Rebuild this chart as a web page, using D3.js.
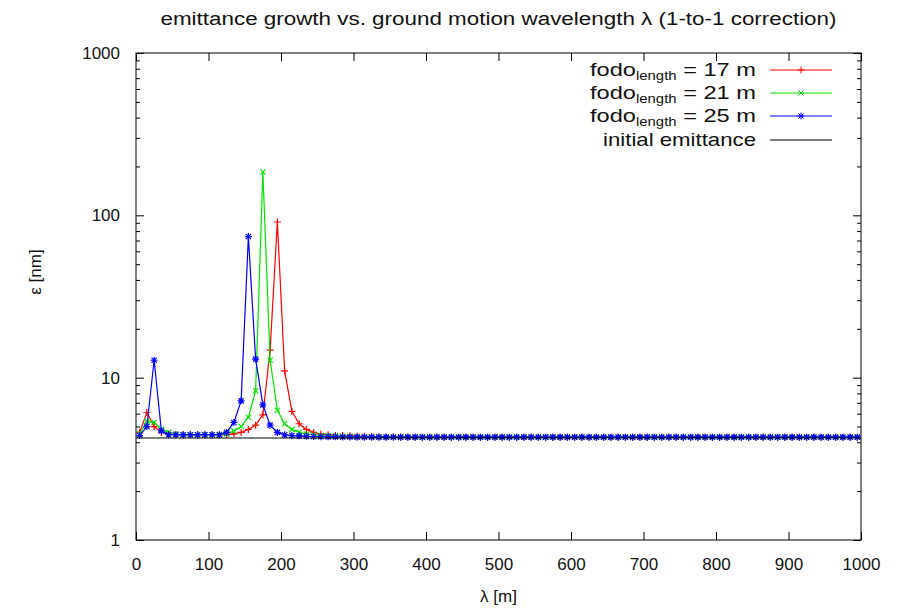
<!DOCTYPE html>
<head>
    <script src="https://d3js.org/d3.v7.min.js"></script>
    <style>
        body {margin: 0; background: #fff;}
        text {font-family: "Liberation Sans", Arial, sans-serif; fill: #111;}
        .tick line {stroke: #000;}
    </style>
</head>
<body>
</body>
<script>
  // lambda grid [m]
  const lambda = [
      5,  15,  25,  35,  45,  55,  65,  75,  85,  95,
    105, 115, 125, 135, 145, 155, 165, 175, 185, 195,
    205, 215, 225, 235, 245, 255, 265, 275, 285, 295,
    305, 315, 325, 335, 345, 355, 365, 375, 385, 395,
    405, 415, 425, 435, 445, 455, 465, 475, 485, 495,
    505, 515, 525, 535, 545, 555, 565, 575, 585, 595,
    605, 615, 625, 635, 645, 655, 665, 675, 685, 695,
    705, 715, 725, 735, 745, 755, 765, 775, 785, 795,
    805, 815, 825, 835, 845, 855, 865, 875, 885, 895,
    905, 915, 925, 935, 945, 955, 965, 975, 985, 995
  ];

  // emittance [nm], fodo length 17 m
  const fodo17 = [
    4.6, 6.1, 5.0, 4.6, 4.5, 4.45, 4.45, 4.45, 4.45, 4.45,
    4.45, 4.45, 4.45, 4.5, 4.6, 4.8, 5.1, 5.9, 14.8, 91,
    11, 6.2, 5.2, 4.8, 4.6, 4.5, 4.45, 4.4, 4.4, 4.38,
    4.36, 4.35, 4.34, 4.33, 4.32, 4.32, 4.31, 4.31, 4.3, 4.3,
    4.3, 4.3, 4.3, 4.3, 4.3, 4.3, 4.3, 4.3, 4.3, 4.3,
    4.3, 4.3, 4.3, 4.3, 4.3, 4.3, 4.3, 4.3, 4.3, 4.3,
    4.3, 4.3, 4.3, 4.3, 4.3, 4.3, 4.3, 4.3, 4.3, 4.3,
    4.3, 4.3, 4.3, 4.3, 4.3, 4.3, 4.3, 4.3, 4.3, 4.3,
    4.3, 4.3, 4.3, 4.3, 4.3, 4.3, 4.3, 4.3, 4.3, 4.3,
    4.3, 4.3, 4.3, 4.3, 4.3, 4.3, 4.3, 4.3, 4.3, 4.3
  ];

  // fodo length 21 m
  const fodo21 = [
    4.5, 5.4, 5.3, 4.8, 4.6, 4.5, 4.45, 4.45, 4.45, 4.45,
    4.45, 4.45, 4.5, 4.7, 5.0, 5.7, 8.3, 185, 12.8, 6.3,
    5.2, 4.8, 4.6, 4.5, 4.45, 4.4, 4.4, 4.38, 4.36, 4.35,
    4.34, 4.33, 4.32, 4.32, 4.31, 4.31, 4.3, 4.3, 4.3, 4.3,
    4.3, 4.3, 4.3, 4.3, 4.3, 4.3, 4.3, 4.3, 4.3, 4.3,
    4.3, 4.3, 4.3, 4.3, 4.3, 4.3, 4.3, 4.3, 4.3, 4.3,
    4.3, 4.3, 4.3, 4.3, 4.3, 4.3, 4.3, 4.3, 4.3, 4.3,
    4.3, 4.3, 4.3, 4.3, 4.3, 4.3, 4.3, 4.3, 4.3, 4.3,
    4.3, 4.3, 4.3, 4.3, 4.3, 4.3, 4.3, 4.3, 4.3, 4.3,
    4.3, 4.3, 4.3, 4.3, 4.3, 4.3, 4.3, 4.3, 4.3, 4.3
  ];

  // fodo length 25 m
  const fodo25 = [
    4.4, 5.0, 12.8, 4.7, 4.45, 4.45, 4.45, 4.45, 4.45, 4.45,
    4.45, 4.45, 4.6, 5.3, 7.2, 74, 13, 6.8, 5.1, 4.6,
    4.45, 4.4, 4.38, 4.35, 4.34, 4.33, 4.32, 4.32, 4.31, 4.31,
    4.3, 4.3, 4.3, 4.3, 4.3, 4.3, 4.3, 4.3, 4.3, 4.3,
    4.3, 4.3, 4.3, 4.3, 4.3, 4.3, 4.3, 4.3, 4.3, 4.3,
    4.3, 4.3, 4.3, 4.3, 4.3, 4.3, 4.3, 4.3, 4.3, 4.3,
    4.3, 4.3, 4.3, 4.3, 4.3, 4.3, 4.3, 4.3, 4.3, 4.3,
    4.3, 4.3, 4.3, 4.3, 4.3, 4.3, 4.3, 4.3, 4.3, 4.3,
    4.3, 4.3, 4.3, 4.3, 4.3, 4.3, 4.3, 4.3, 4.3, 4.3,
    4.3, 4.3, 4.3, 4.3, 4.3, 4.3, 4.3, 4.3, 4.3, 4.3
  ];

  const initialEmittance = 4.25;

  const xTicks = [0, 100, 200, 300, 400, 500, 600, 700, 800, 900, 1000],
        yTicks = [1, 10, 100, 1000],
        yMinor = [2, 3, 4, 5, 6, 7, 8, 9, 20, 30, 40, 50, 60, 70, 80, 90, 200, 300, 400, 500, 600, 700, 800, 900];

  const seriesNames = ["17", "21", "25"],
        seriesColors = ["#ff0000", "#00e000", "#0000ff"],
        seriesShapes = ["plus", "cross", "star"];

  const width = 908,
        height = 608,
        margin = {left: 136, right: 47, top: 53, bottom: 68};

  const x = d3.scaleLinear()
          .domain([0, 1000])
          .range([margin.left, width - margin.right]);

  const y = d3.scaleLog()
          .domain([1, 1000])
          .range([height - margin.bottom, margin.top]);

  const svg = d3.select("body").append("svg")
          .attr("width", width)
          .attr("height", height);

  // title
  svg.append("text")
    .attr("x", (x.range()[0] + x.range()[1]) / 2)
    .attr("y", 25)
    .attr("text-anchor", "middle")
    .attr("textLength", 676)
    .attr("lengthAdjust", "spacingAndGlyphs")
    .style("font-size", "18px")
    .text("emittance growth vs. ground motion wavelength \u03bb (1-to-1 correction)");

  // axes, gnuplot style ticks pointing inward on all sides
  const noDomain = g => g.select(".domain").remove();

  svg.append("g")
    .attr("transform", `translate(0,${ y(1) })`)
    .call(d3.axisBottom(x).tickValues(xTicks).tickSize(-8).tickPadding(18).tickFormat(d3.format("d")))
    .call(noDomain)
    .selectAll("text").style("font-size", "17px").attr("fill", "#111");

  svg.append("g")
    .attr("transform", `translate(0,${ y(1000) })`)
    .call(d3.axisTop(x).tickValues(xTicks).tickSize(-8).tickFormat(""))
    .call(noDomain);

  svg.append("g")
    .attr("transform", `translate(${ x(0) },0)`)
    .call(d3.axisLeft(y).tickValues(yTicks).tickSize(-8).tickPadding(16).tickFormat(d3.format("d")))
    .call(noDomain)
    .selectAll("text").style("font-size", "17px").attr("fill", "#111");

  svg.append("g")
    .attr("transform", `translate(${ x(0) },0)`)
    .call(d3.axisLeft(y).tickValues(yMinor).tickSize(-4).tickFormat(""))
    .call(noDomain);

  svg.append("g")
    .attr("transform", `translate(${ x(1000) },0)`)
    .call(d3.axisRight(y).tickValues(yTicks).tickSize(-8).tickFormat(""))
    .call(noDomain);

  svg.append("g")
    .attr("transform", `translate(${ x(1000) },0)`)
    .call(d3.axisRight(y).tickValues(yMinor).tickSize(-4).tickFormat(""))
    .call(noDomain);

  svg.append("rect")
    .attr("x", x(0))
    .attr("y", y(1000))
    .attr("width", x(1000) - x(0))
    .attr("height", y(1) - y(1000))
    .attr("fill", "none")
    .attr("stroke", "#000")
    .attr("stroke-width", 1);

  // axis labels
  svg.append("text")
    .attr("x", (x.range()[0] + x.range()[1]) / 2)
    .attr("y", 602)
    .attr("text-anchor", "middle")
    .style("font-size", "17px")
    .text("\u03bb [m]");

  svg.append("text")
    .attr("transform", "translate(41,272) rotate(-90)")
    .attr("text-anchor", "middle")
    .style("font-size", "17px")
    .text("\u03b5 [nm]");

  // point markers like gnuplot pt 1, 2, 3
  const marker = (shape, r) => {
    const p = `M${-r},0H${r}M0,${-r}V${r}`,
          c = `M${-r * 0.75},${-r * 0.75}L${r * 0.75},${r * 0.75}M${-r * 0.75},${r * 0.75}L${r * 0.75},${-r * 0.75}`;
    if (shape === "plus") return p;
    if (shape === "cross") return c;
    return p + c;
  };

  const line = d3.line()
          .x(d => x(d[0]))
          .y(d => y(d[1]));

  const allSeries = [fodo17, fodo21, fodo25];

  allSeries.forEach((values, k) => {
    const pts = lambda.map((l, i) => [l, values[i]]);
    const g = svg.append("g");

    g.append("path")
      .datum(pts)
      .attr("d", line)
      .attr("fill", "none")
      .attr("stroke", seriesColors[k])
      .attr("stroke-width", 1.2);

    g.selectAll("path.pt")
      .data(pts)
      .enter().append("path")
      .attr("class", "pt")
      .attr("transform", d => `translate(${ x(d[0]) },${ y(d[1]) })`)
      .attr("d", marker(seriesShapes[k], 3.5))
      .attr("fill", "none")
      .attr("stroke", seriesColors[k])
      .attr("stroke-width", 1.2);
  });

  // initial emittance
  svg.append("line")
    .attr("x1", x(0))
    .attr("x2", x(1000))
    .attr("y1", y(initialEmittance))
    .attr("y2", y(initialEmittance))
    .attr("stroke", "#000")
    .attr("stroke-width", 1);

  // legend
  const legendRows = [70, 93, 116, 140],
        legendTextX = 756,
        legendLine = [770, 832];

  seriesNames.forEach((name, k) => {
    const t = svg.append("text")
      .attr("x", legendTextX)
      .attr("y", legendRows[k] + 6)
      .attr("text-anchor", "end")
      .attr("textLength", 166)
      .attr("lengthAdjust", "spacingAndGlyphs")
      .style("font-size", "19px");
    t.append("tspan").text("fodo");
    t.append("tspan").attr("dy", 4).style("font-size", "12px").text("length");
    t.append("tspan").attr("dy", -4).text(` = ${ name } m`);

    svg.append("line")
      .attr("x1", legendLine[0]).attr("x2", legendLine[1])
      .attr("y1", legendRows[k]).attr("y2", legendRows[k])
      .attr("stroke", seriesColors[k]);

    svg.append("path")
      .attr("transform", `translate(${ (legendLine[0] + legendLine[1]) / 2 },${ legendRows[k] })`)
      .attr("d", marker(seriesShapes[k], 3.5))
      .attr("fill", "none")
      .attr("stroke", seriesColors[k]);
  });

  svg.append("text")
    .attr("x", legendTextX)
    .attr("y", legendRows[3] + 6)
    .attr("text-anchor", "end")
    .attr("textLength", 153)
    .attr("lengthAdjust", "spacingAndGlyphs")
    .style("font-size", "19px")
    .text("initial emittance");

  svg.append("line")
    .attr("x1", legendLine[0]).attr("x2", legendLine[1])
    .attr("y1", legendRows[3]).attr("y2", legendRows[3])
    .attr("stroke", "#000");
</script>
